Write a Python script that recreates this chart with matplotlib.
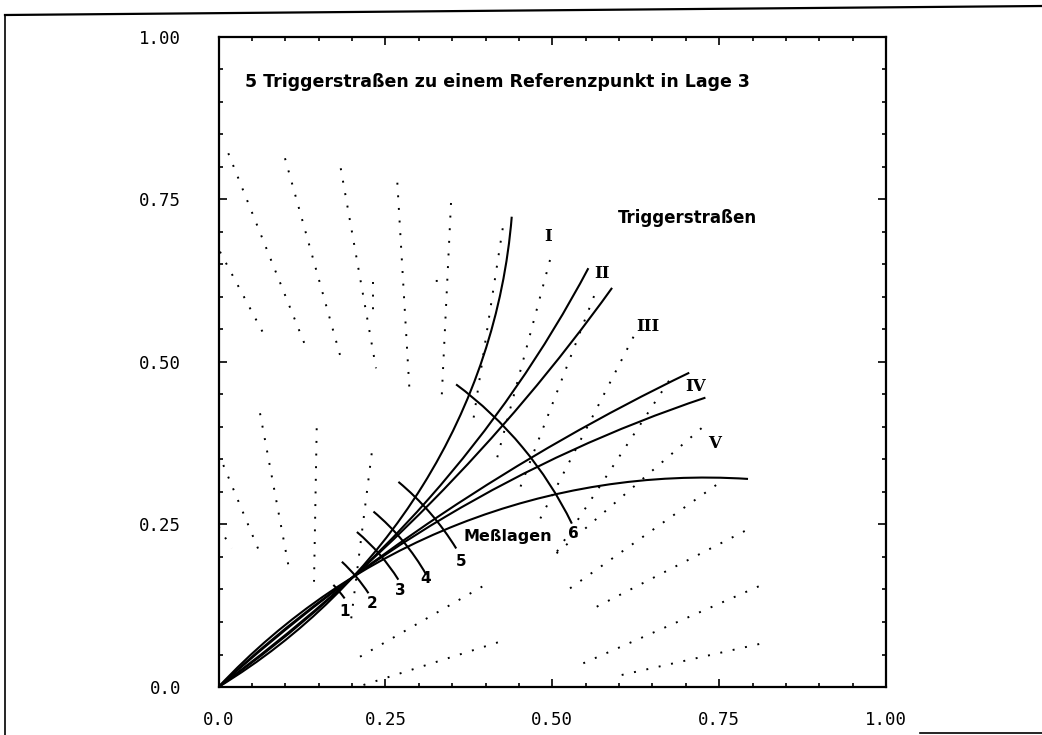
import matplotlib.pyplot as plt
from matplotlib.patches import Arc
from matplotlib.lines import Line2D

# Begrenzungskurven der 5 Triggerstrassen: Kreisbahnen durch den Ursprung
# und den Referenzpunkt (Mittelpunkt, Radius, Winkelbereich aus dem Bild)
curve_cx = [-0.4978, -1.0749, -1.6721, 2.0593, 1.3750, 0.7288]
curve_cy = [0.7974, 1.4847, 2.1959, -2.2479, -1.4329, -0.6633]
curve_r = [0.9400, 1.8330, 2.7600, 3.0486, 1.9859, 0.9855]
curve_t1 = [-58.02, -54.09, -52.71, 116.37, 108.97, 86.25]
curve_t2 = [-4.51, -27.29, -34.97, 132.50, 133.82, 137.70]

# Messlagen: Kreisboegen um den Ursprung (Radius, Start-/Endwinkel in Grad)
lage_r = [0.233, 0.267, 0.316, 0.356, 0.415, 0.586]
lage_t1 = [35.8, 32.7, 31.5, 29.0, 30.9, 25.4]
lage_t2 = [42.4, 46.2, 49.0, 49.3, 49.5, 52.6]
lage_names = ['1', '2', '3', '4', '5', '6']
lage_lx = [0.1895, 0.2295, 0.2719, 0.3109, 0.3628, 0.5315]
lage_ly = [0.1158, 0.1288, 0.1492, 0.1672, 0.1928, 0.2354]

# gepunktete Draehte (Anfangs- und Endpunkt je Segment)
wire_x0 = [0.0147, 0.0022, 0.0996, 0.1831, 0.2679, 0.3483, 0.4258, 0.4966, 0.5626, 0.6217, 0.6749,
           0.0072, 0.0000, 0.0622, 0.1471, 0.2295,
           0.2120, 0.2172, 0.5064, 0.5266, 0.5666, 0.5465, 0.6040, 0.2319, 0.3269]
wire_y0 = [0.8211, 0.6697, 0.8134, 0.7980, 0.7758, 0.7446, 0.7057, 0.6569, 0.6014, 0.5388, 0.4711,
           0.3415, 0.2466, 0.4211, 0.3980, 0.3595,
           0.0466, 0.0031, 0.2057, 0.1518, 0.1235, 0.0365, 0.0185, 0.6235, 0.6262]
wire_x1 = [0.1296, 0.0671, 0.1820, 0.2360, 0.2858, 0.3344, 0.3817, 0.4172, 0.4517, 0.4812, 0.5054,
           0.0622, 0.0198, 0.1046, 0.1431, 0.1970,
           0.3966, 0.4217, 0.7262, 0.7563, 0.7913, 0.8138, 0.8255, 0.2319, 0.3273]
wire_y1 = [0.5262, 0.5442, 0.5108, 0.4903, 0.4620, 0.4466, 0.4108, 0.3518, 0.3063, 0.2574, 0.2057,
           0.2057, 0.2134, 0.1877, 0.1620, 0.0903,
           0.1554, 0.0697, 0.4005, 0.3185, 0.2415, 0.1569, 0.0697, 0.5749, 0.6077]

roman = ['I', 'II', 'III', 'IV', 'V']
roman_x = [0.4941, 0.5741, 0.6439, 0.7149, 0.7438]
roman_y = [0.6928, 0.6364, 0.5543, 0.4620, 0.3749]

ticks = [0.0, 0.25, 0.5, 0.75, 1.0]
tick_labels = ['0.0', '0.25', '0.50', '0.75', '1.00']
minor = [0.05, 0.10, 0.15, 0.20, 0.30, 0.35, 0.40, 0.45, 0.55, 0.60, 0.65, 0.70,
         0.80, 0.85, 0.90, 0.95]

fig = plt.figure(figsize=(10.42, 7.35), dpi=100)
ax = fig.add_axes([0.2097, 0.0653, 0.6406, 0.8844])
ax.set_xlim(0, 1)
ax.set_ylim(0, 1)

for x0, y0, x1, y1 in zip(wire_x0, wire_y0, wire_x1, wire_y1):
    ax.plot([x0, x1], [y0, y1], color='black', lw=1.4, ls=(0, (1, 5.5)))

for cx, cy, r, t1, t2 in zip(curve_cx, curve_cy, curve_r, curve_t1, curve_t2):
    ax.add_patch(Arc((cx, cy), 2 * r, 2 * r, theta1=t1, theta2=t2, color='black', lw=1.5))

for r, t1, t2 in zip(lage_r, lage_t1, lage_t2):
    ax.add_patch(Arc((0, 0), 2 * r, 2 * r, theta1=t1, theta2=t2, color='black', lw=1.5))

for name, lx, ly in zip(lage_names, lage_lx, lage_ly):
    ax.text(lx, ly, name, ha='center', va='center', fontsize=11, fontweight='bold')

for name, lx, ly in zip(roman, roman_x, roman_y):
    ax.text(lx, ly, name, ha='center', va='center', fontsize=12, fontweight='bold',
            family='DejaVu Serif')

ax.text(0.04, 0.931, '5 Triggerstraßen zu einem Referenzpunkt in Lage 3',
        ha='left', va='center', fontsize=12.5, fontweight='bold')
ax.text(0.5985, 0.7215, 'Triggerstraßen', ha='left', va='center', fontsize=12, fontweight='bold')
ax.text(0.3663, 0.2312, 'Meßlagen', ha='left', va='center', fontsize=11.5, fontweight='bold')

ax.set_xticks(ticks)
ax.set_yticks(ticks)
ax.set_xticklabels(tick_labels, family='DejaVu Sans Mono', fontsize=12.5)
ax.set_yticklabels(tick_labels, family='DejaVu Sans Mono', fontsize=12.5)
ax.set_xticks(minor, minor=True)
ax.set_yticks(minor, minor=True)
ax.tick_params(which='both', direction='in', top=True, right=True, width=1.2)
ax.tick_params(which='major', length=6)
ax.tick_params(which='minor', length=3)
ax.tick_params(axis='x', which='major', pad=17)
ax.tick_params(axis='y', which='major', pad=27)
for s in ax.spines.values():
    s.set_linewidth(1.6)

# Rand des eingescannten Blattes
fig.add_artist(Line2D([5 / 1042, 1.0], [1 - 15 / 735, 1 - 6 / 735], color='black', lw=1.6))
fig.add_artist(Line2D([5 / 1042, 5 / 1042], [1 - 15 / 735, 0.0], color='black', lw=1.2))
fig.add_artist(Line2D([920 / 1042, 1.0], [2 / 735, 2 / 735], color='black', lw=1.2))

fig.savefig('out.png', dpi=100)
